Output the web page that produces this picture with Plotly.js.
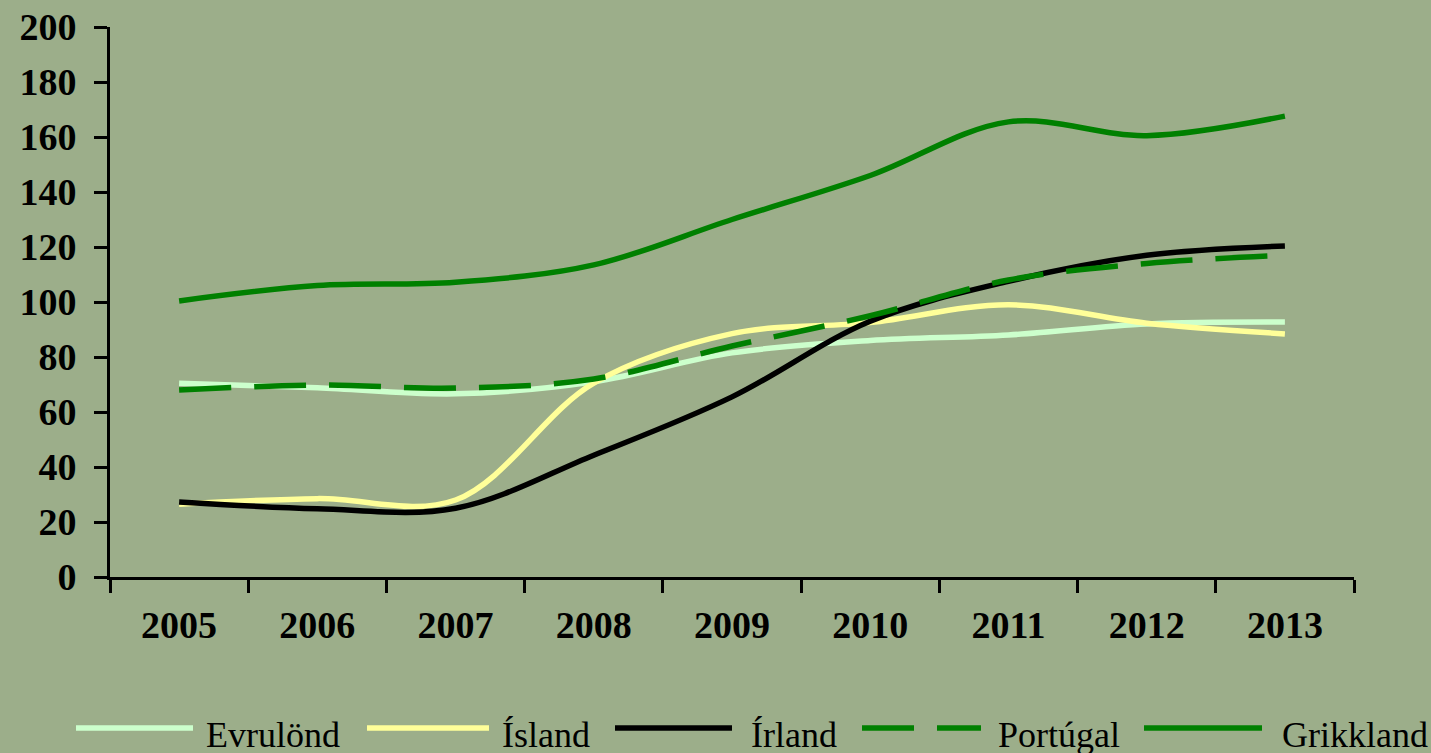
<!DOCTYPE html>
<html>
<head>
<meta charset="utf-8">
<script src="https://cdn.plot.ly/plotly-3.0.1.min.js"></script>
<style>html,body{margin:0;padding:0;background:#9CAE8A;}#chart{width:1431px;height:753px;}</style>
</head>
<body>
<div id="chart"></div>
<script>
const years = ['2005','2006','2007','2008','2009','2010','2011','2012','2013'];
const evrulond  = [70.5, 68.8, 66.6, 71.0, 81.5, 86.0, 88.0, 92.0, 92.7];
const island    = [26.5, 28.5, 28.0, 70.5, 88.5, 92.5, 99.0, 92.3, 88.4];
const irland    = [27.3, 24.8, 25.0, 44.3, 65.5, 93.0, 107.5, 117.0, 120.4];
const portugal  = [68.0, 69.8, 68.7, 72.0, 84.0, 95.0, 108.0, 114.0, 117.0];
const grikkland = [100.4, 106.0, 107.2, 113.5, 130.0, 146.0, 165.5, 160.5, 167.6];
const names = ['Evrulönd','Ísland','Írland','Portúgal','Grikkland'];
const series = [evrulond, island, irland, portugal, grikkland];
const colors = ['#CCFFCC','#FFFF99','#000000','#008000','#008000'];
const dashes = ['solid','solid','solid','52px,23px','solid'];

const traces = series.map((s,i)=>({
  x: years, y: s, name: names[i], type:'scatter', mode:'lines',
  line:{color:colors[i], width:5.5, shape:'spline', smoothing:1, dash:dashes[i]},
  hoverinfo:'skip'
}));

// custom legend (layout positions in paper coordinates)
const L = 110, W = 1244, T = 27, H = 550;
const px = v => (v - L) / W;
const py = v => (T + H - v) / H;
const legendLines = [[76,193],[367,489],[615,732],[862,981],[1144,1262]];
const legendText = [204,500,749,996,1280];
const shapes = [], annotations = [];
legendLines.forEach((p,i)=>{
  shapes.push({type:'line', xref:'paper', yref:'paper', x0:px(p[0]), x1:px(p[1]), y0:py(728), y1:py(728),
    line:{color:colors[i], width:5.5, dash:dashes[i]}});
  annotations.push({xref:'paper', yref:'paper', x:px(legendText[i]), y:py(735), xanchor:'left', yanchor:'middle',
    text:names[i], showarrow:false, font:{family:'Liberation Serif, Times New Roman, serif', size:36, color:'#000'}});
});

const layout = {
  width:1431, height:753,
  paper_bgcolor:'#9CAE8A', plot_bgcolor:'#9CAE8A',
  margin:{l:110, r:77, t:27, b:176},
  showlegend:false,
  xaxis:{type:'category', range:[-0.5, 8.5], tickson:'boundaries', ticks:'outside', ticklen:13, tickwidth:3, tickcolor:'#000',
    showline:true, linecolor:'#000', linewidth:3, showgrid:false, zeroline:false,
    tickfont:{family:'Liberation Serif, Times New Roman, serif', size:38, color:'#000', weight:'bold'},
    ticklabelstandoff:12},
  yaxis:{range:[0,200], dtick:20, tick0:0, ticks:'outside', ticklen:13, tickwidth:3, tickcolor:'#000',
    showline:true, linecolor:'#000', linewidth:3, showgrid:false, zeroline:false,
    tickfont:{family:'Liberation Serif, Times New Roman, serif', size:38, color:'#000', weight:'bold'},
    ticklabelstandoff:10},
  shapes:shapes, annotations:annotations
};
Plotly.newPlot('chart', traces, layout, {displayModeBar:false, staticPlot:true});
</script>
</body>
</html>
